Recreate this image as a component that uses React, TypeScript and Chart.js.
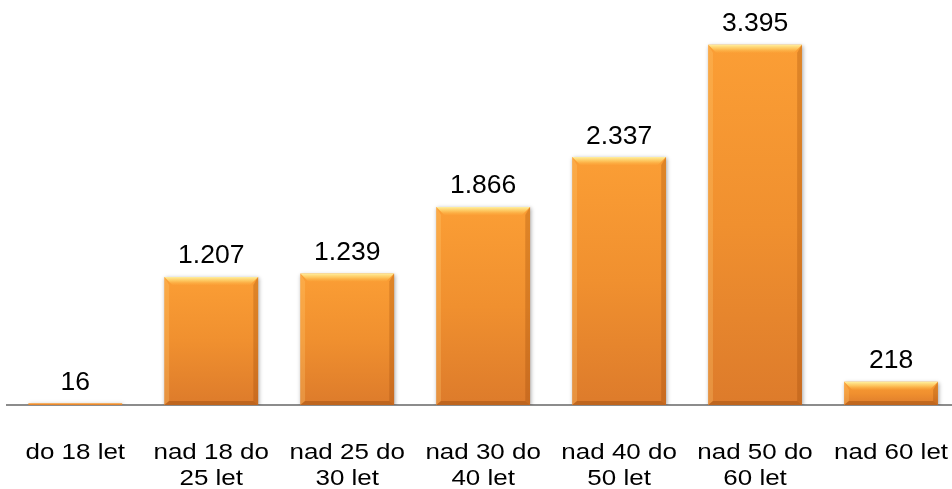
import { useEffect, useRef } from 'react';
import { Chart, registerables } from 'chart.js';

Chart.register(...registerables);

const categoryLines: string[][] = [
  ['do 18 let'],
  ['nad 18 do', '25 let'],
  ['nad 25 do', '30 let'],
  ['nad 30 do', '40 let'],
  ['nad 40 do', '50 let'],
  ['nad 50 do', '60 let'],
  ['nad 60 let'],
];
const values: number[] = [16, 1207, 1239, 1866, 2337, 3395, 218];
const yMin = 0;
const yMax = 3600;

function fmt(v: number): string {
  return v.toString().replace(/\B(?=(\d{3})+(?!\d))/g, '.');
}

const barStyle = {
  id: 'barStyle',
  beforeDatasetsDraw(chart: any) {
    const ctx = chart.ctx;
    ctx.save();
    ctx.shadowColor = 'rgba(0,0,0,0.35)';
    ctx.shadowBlur = 4;
    ctx.shadowOffsetX = 1;
    ctx.shadowOffsetY = 1;
  },
  afterDatasetsDraw(chart: any) {
    const ctx = chart.ctx;
    ctx.restore();
    const meta = chart.getDatasetMeta(0);
    meta.data.forEach((el: any) => {
      const p = el.getProps(['x', 'y', 'base', 'width'], true);
      const x0 = p.x - p.width / 2;
      const x1 = p.x + p.width / 2;
      const top = Math.min(p.y, p.base);
      const bottom = Math.max(p.y, p.base);
      const h = bottom - top;
      if (h < 4) return;
      const b = Math.min(8, h / 2);
      ctx.save();
      // top bevel
      const gt = ctx.createLinearGradient(0, top, 0, top + b);
      gt.addColorStop(0, 'rgba(255,240,160,1)');
      gt.addColorStop(0.5, 'rgba(255,214,110,0.7)');
      gt.addColorStop(1, 'rgba(255,180,70,0.15)');
      ctx.fillStyle = gt;
      ctx.beginPath();
      ctx.moveTo(x0, top);
      ctx.lineTo(x1, top);
      ctx.lineTo(x1 - b, top + b);
      ctx.lineTo(x0 + b, top + b);
      ctx.closePath();
      ctx.fill();
      // left bevel
      ctx.fillStyle = 'rgba(255,205,120,0.28)';
      ctx.beginPath();
      ctx.moveTo(x0, top);
      ctx.lineTo(x0 + b * 0.6, top + b);
      ctx.lineTo(x0 + b * 0.6, bottom - b * 0.5);
      ctx.lineTo(x0, bottom);
      ctx.closePath();
      ctx.fill();
      // right bevel
      ctx.fillStyle = 'rgba(140,60,0,0.25)';
      ctx.beginPath();
      ctx.moveTo(x1, top);
      ctx.lineTo(x1 - b * 0.6, top + b);
      ctx.lineTo(x1 - b * 0.6, bottom - b * 0.5);
      ctx.lineTo(x1, bottom);
      ctx.closePath();
      ctx.fill();
      // bottom bevel
      ctx.fillStyle = 'rgba(120,50,0,0.3)';
      ctx.beginPath();
      ctx.moveTo(x0, bottom);
      ctx.lineTo(x1, bottom);
      ctx.lineTo(x1 - b * 0.6, bottom - b * 0.5);
      ctx.lineTo(x0 + b * 0.6, bottom - b * 0.5);
      ctx.closePath();
      ctx.fill();
      ctx.restore();
    });
  },
};

const textPlugin = {
  id: 'textPlugin',
  afterDraw(chart: any) {
    const ctx = chart.ctx;
    const xs = chart.scales.x;
    const ca = chart.chartArea;
    const meta = chart.getDatasetMeta(0);
    ctx.save();
    ctx.fillStyle = '#000000';
    ctx.textAlign = 'center';
    ctx.textBaseline = 'alphabetic';
    // data labels
    ctx.font = '26px "Liberation Sans", Arial, sans-serif';
    meta.data.forEach((el: any, i: number) => {
      const p = el.getProps(['x', 'y'], true);
      ctx.save();
      ctx.translate(p.x, p.y - 13.5);
      ctx.scale(1.02, 1);
      ctx.fillText(fmt(values[i]), 0, 0);
      ctx.restore();
    });
    // category labels
    ctx.font = '22px "Liberation Sans", Arial, sans-serif';
    categoryLines.forEach((lines, i) => {
      const x = xs.getPixelForValue(i);
      lines.forEach((line, j) => {
        ctx.save();
        ctx.translate(x, ca.bottom + 53.7 + j * 26.5);
        ctx.scale(1.18, 1);
        ctx.fillText(line, 0, 0);
        ctx.restore();
      });
    });
    ctx.restore();
  },
};

export default function App() {
  const ref = useRef<HTMLCanvasElement | null>(null);
  useEffect(() => {
    if (!ref.current) return;
    const chart = new Chart(ref.current, {
      type: 'bar',
      data: {
        labels: categoryLines.map((l) => l.join(' ')),
        datasets: [
          {
            data: values,
            backgroundColor: (c: any) => {
              const ch = c.chart;
              if (!ch.chartArea || !ch.scales.y) return '#F7962F';
              const ys = ch.scales.y;
              const top = ys.getPixelForValue(values[c.dataIndex]);
              const bottom = ys.getPixelForValue(0);
              if (!(bottom - top > 1)) return '#F5A060';
              const g = ch.ctx.createLinearGradient(0, top, 0, bottom);
              g.addColorStop(0, '#FB9E35');
              g.addColorStop(0.5, '#F0902F');
              g.addColorStop(1, '#DD7B2B');
              return g;
            },
            borderWidth: 0,
            categoryPercentage: 1,
            barPercentage: 0.69,
          },
        ],
      },
      options: {
        animation: false,
        responsive: true,
        maintainAspectRatio: false,
        layout: { padding: { left: 7.3, right: 0, top: 23, bottom: 84 } },
        plugins: { legend: { display: false }, tooltip: { enabled: false } },
        scales: {
          x: {
            grid: { display: false, drawTicks: false },
            border: { display: true, color: '#8C8C8C', width: 2 },
            ticks: { display: false },
          },
          y: {
            display: false,
            min: yMin,
            max: yMax,
          },
        },
      },
      plugins: [barStyle, textPlugin],
    });
    return () => chart.destroy();
  }, []);
  return (
    <div style={{ position: 'fixed', left: 0, top: 0, width: 952, height: 489, overflow: 'hidden', background: '#fff' }}>
      <div style={{ position: 'absolute', left: 0, top: 0, width: 959, height: 489 }}>
        <canvas ref={ref} />
      </div>
    </div>
  );
}
